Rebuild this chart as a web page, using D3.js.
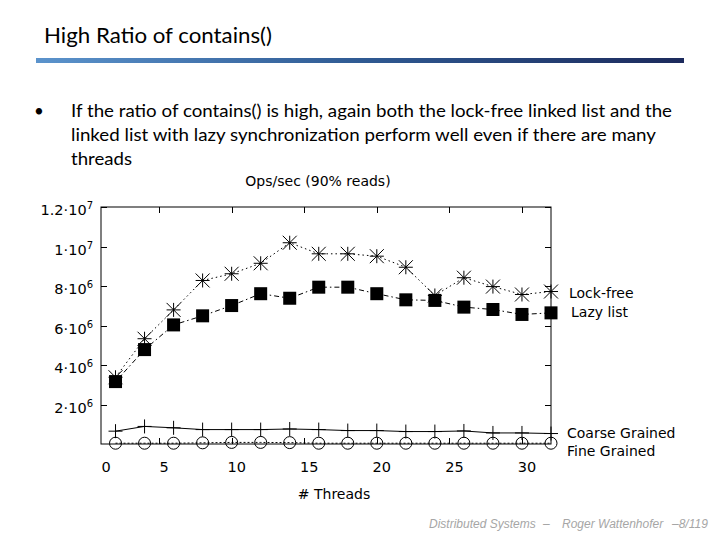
<!DOCTYPE html>
<html>
<head>
<meta charset="utf-8">
<script src="https://cdn.jsdelivr.net/npm/d3@7"></script>
<style>
  body { margin: 0; background: #fff; }
  svg { display: block; }
</style>
</head>
<body>
<div id="chart"></div>
<script>
'use strict';

// thread counts on the x axis
const threads = [2, 4, 6, 8, 10, 12, 14, 16, 18, 20, 22, 24, 26, 28, 30, 32];

// ops/sec
const lockFree = [3.38e6, 5.33e6, 6.79e6, 8.28e6, 8.62e6, 9.15e6, 10.19e6, 9.63e6,
                  9.63e6, 9.51e6, 8.95e6, 7.52e6, 8.42e6, 7.97e6, 7.57e6, 7.72e6];
const lazyList = [3.16e6, 4.78e6, 6.03e6, 6.49e6, 7.01e6, 7.61e6, 7.38e6, 7.94e6,
                  7.94e6, 7.61e6, 7.30e6, 7.27e6, 6.93e6, 6.81e6, 6.56e6, 6.64e6];
const coarse = [0.65e6, 0.89e6, 0.82e6, 0.73e6, 0.73e6, 0.73e6, 0.76e6, 0.73e6,
                0.68e6, 0.68e6, 0.63e6, 0.63e6, 0.66e6, 0.56e6, 0.56e6, 0.53e6];
const fine = [0.04e6, 0.04e6, 0.04e6, 0.06e6, 0.08e6, 0.08e6, 0.07e6, 0.04e6,
              0.04e6, 0.04e6, 0.04e6, 0.04e6, 0.04e6, 0.04e6, 0.04e6, 0.04e6];

const xTicks = [0, 5, 10, 15, 20, 25, 30];
const yTicks = [2e6, 4e6, 6e6, 8e6, 1e7, 1.2e7];
const yTickLabels = [["2", "6"], ["4", "6"], ["6", "6"], ["8", "6"], ["1", "7"], ["1.2", "7"]];

const bulletLines = [
  "If the ratio of contains() is high, again both the lock-free linked list and the",
  "linked list with lazy synchronization perform well even if there are many",
  "threads"
];

const W = 720, H = 540;
const svg = d3.select("#chart").append("svg")
  .attr("width", W)
  .attr("height", H);

// slide header
const defs = svg.append("defs");
const grad = defs.append("linearGradient").attr("id", "bar-grad");
grad.append("stop").attr("offset", "0%").attr("stop-color", "#5b93cc");
grad.append("stop").attr("offset", "50%").attr("stop-color", "#2f5a93");
grad.append("stop").attr("offset", "100%").attr("stop-color", "#1c2a5c");

svg.append("text")
  .attr("x", 44).attr("y", 43)
  .attr("font-family", "Lato, 'Open Sans', sans-serif")
  .attr("font-size", 21)
  .attr("textLength", 228)
  .attr("lengthAdjust", "spacingAndGlyphs")
  .attr("fill", "#000")
  .text("High Ratio of contains()");

svg.append("rect")
  .attr("x", 36).attr("y", 58)
  .attr("width", 648).attr("height", 5)
  .attr("fill", "url(#bar-grad)");

// bullet
svg.append("text")
  .attr("x", 34).attr("y", 117)
  .attr("font-family", "Lato, sans-serif")
  .attr("font-size", 17)
  .text("•");

const lineWidths = [601, 585, 61];
bulletLines.forEach((s, i) => {
  svg.append("text")
    .attr("x", 71).attr("y", 117 + i * 24)
    .attr("font-family", "Lato, 'Open Sans', sans-serif")
    .attr("font-size", 17.5)
    .attr("textLength", lineWidths[i])
    .attr("lengthAdjust", "spacingAndGlyphs")
    .text(s);
});

// plot area
const plot = { left: 101, right: 551, top: 207, bottom: 444 };
const x = d3.scaleLinear().domain([1, 32]).range([plot.left, plot.right]);
const y = d3.scaleLinear().domain([0, 1.2e7]).range([plot.bottom, plot.top]);

const chartFont = "'DejaVu Sans', Verdana, sans-serif";
const g = svg.append("g");

// frame
g.append("rect")
  .attr("x", plot.left).attr("y", plot.top)
  .attr("width", plot.right - plot.left)
  .attr("height", plot.bottom - plot.top)
  .attr("fill", "none")
  .attr("stroke", "#000")
  .attr("stroke-width", 1);

// y ticks, both sides, pointing inward
yTicks.forEach((v, i) => {
  const yy = Math.round(y(v)) + 0.5;
  g.append("line").attr("x1", plot.left).attr("x2", plot.left + 6)
    .attr("y1", yy).attr("y2", yy).attr("stroke", "#000");
  g.append("line").attr("x1", plot.right).attr("x2", plot.right - 6)
    .attr("y1", yy).attr("y2", yy).attr("stroke", "#000");
  const t = g.append("text")
    .attr("x", 93).attr("y", yy + 7)
    .attr("text-anchor", "end")
    .attr("font-family", chartFont)
    .attr("font-size", 14.5);
  t.append("tspan").text(yTickLabels[i][0] + "·10");
  t.append("tspan").attr("dy", -6).attr("font-size", 10).text(yTickLabels[i][1]);
});

// x ticks, top and bottom, pointing inward
xTicks.forEach((v) => {
  const xx = Math.round(x(v)) + 0.5;
  if (x(v) > plot.left) {
    g.append("line").attr("x1", xx).attr("x2", xx)
      .attr("y1", plot.bottom).attr("y2", plot.bottom - 6).attr("stroke", "#000");
    g.append("line").attr("x1", xx).attr("x2", xx)
      .attr("y1", plot.top).attr("y2", plot.top + 6).attr("stroke", "#000");
  }
  g.append("text")
    .attr("x", Math.max(x(v), plot.left) + 5)
    .attr("y", 472)
    .attr("text-anchor", "middle")
    .attr("font-family", chartFont)
    .attr("font-size", 14.5)
    .text(v);
});

// axis titles
g.append("text")
  .attr("x", 318).attr("y", 186)
  .attr("text-anchor", "middle")
  .attr("font-family", chartFont)
  .attr("font-size", 14)
  .text("Ops/sec (90% reads)");

g.append("text")
  .attr("x", 334).attr("y", 499)
  .attr("text-anchor", "middle")
  .attr("font-family", chartFont)
  .attr("font-size", 14)
  .text("# Threads");

// series
const series = [
  { name: "Lock-free", values: lockFree, dash: "1.5,3", marker: "star", lx: 569, ly: 298 },
  { name: "Lazy list", values: lazyList, dash: "5,3,1.5,3", marker: "square", lx: 571, ly: 317 },
  { name: "Coarse Grained", values: coarse, dash: null, marker: "plus", lx: 567, ly: 438 },
  { name: "Fine Grained", values: fine, dash: "2,2", marker: "circle", lx: 567, ly: 456 }
];

const line = d3.line()
  .x((d) => x(d[0]))
  .y((d) => y(d[1]));

series.forEach((s) => {
  const pts = threads.map((t, i) => [t, s.values[i]]);
  g.append("path")
    .attr("d", line(pts))
    .attr("fill", "none")
    .attr("stroke", "#000")
    .attr("stroke-width", 1)
    .attr("stroke-dasharray", s.dash);

  const m = g.append("g");
  pts.forEach((p) => {
    const px = x(p[0]), py = y(p[1]);
    if (s.marker === "star") {
      const r = 7;
      const path = `M${px - r},${py}H${px + r}M${px},${py - r}V${py + r}` +
        `M${px - r},${py - r}L${px + r},${py + r}M${px - r},${py + r}L${px + r},${py - r}`;
      m.append("path").attr("d", path).attr("stroke", "#000").attr("stroke-width", 1);
    } else if (s.marker === "square") {
      m.append("rect").attr("x", px - 6.5).attr("y", py - 6.5)
        .attr("width", 13).attr("height", 13).attr("fill", "#000");
    } else if (s.marker === "plus") {
      const r = 7;
      m.append("path").attr("d", `M${px - r},${py}H${px + r}M${px},${py - r}V${py + r}`)
        .attr("stroke", "#000").attr("stroke-width", 1);
    } else {
      m.append("circle").attr("cx", px).attr("cy", py).attr("r", 6)
        .attr("fill", "none").attr("stroke", "#000");
    }
  });

  g.append("text")
    .attr("x", s.lx).attr("y", s.ly)
    .attr("font-family", chartFont)
    .attr("font-size", 14)
    .text(s.name);
});

// footer
const footFont = "'Liberation Sans', Arial, sans-serif";
[["Distributed Systems", 429], ["–", 543], ["Roger Wattenhofer", 562], ["–8/119", 672]]
  .forEach(([s, fx]) => {
    svg.append("text")
      .attr("x", fx).attr("y", 528)
      .attr("font-family", footFont)
      .attr("font-style", "italic")
      .attr("font-size", 12)
      .attr("fill", "#a6a6a6")
      .text(s);
  });
</script>
</body>
</html>
